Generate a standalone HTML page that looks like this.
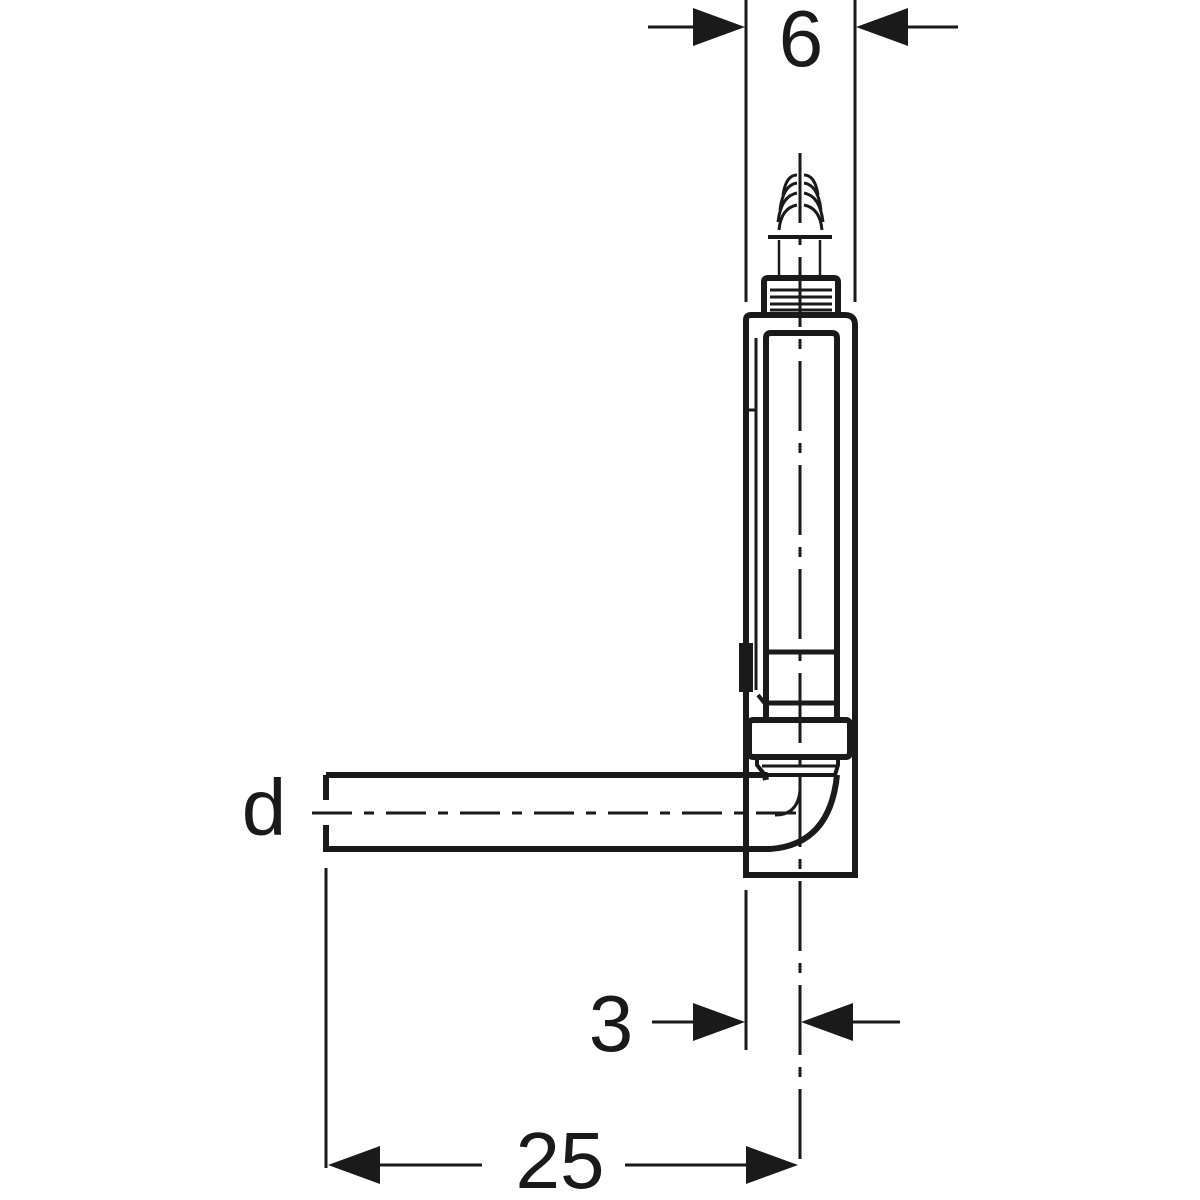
<!DOCTYPE html>
<html><head><style>html,body{margin:0;padding:0;background:#fff}svg{display:block}</style></head>
<body>
<svg width="1200" height="1200" viewBox="0 0 1200 1200" xmlns="http://www.w3.org/2000/svg">
<g stroke="#1a1a1a" fill="none" stroke-linecap="butt">
<line x1="746" y1="0" x2="746" y2="302" stroke-width="3"/>
<line x1="855" y1="0" x2="855" y2="302" stroke-width="3"/>
<line x1="648" y1="27" x2="700" y2="27" stroke-width="3"/>
<line x1="900" y1="27" x2="958" y2="27" stroke-width="3"/>
<path d="M746,850 V320 Q746,315 751,315 H845 Q855,315 855,325 V875 H746 V850" stroke-width="6"/>
<line x1="756" y1="338" x2="756" y2="690" stroke-width="3"/>
<line x1="746" y1="410" x2="756" y2="410" stroke-width="3"/>
<rect x="741" y="645" width="10" height="45" stroke-width="4"/>
<path d="M764,315 V282 Q764,278 768,278 H834 Q838,278 838,282 V315" stroke-width="6"/>
<g stroke-width="3">
<line x1="770" y1="290" x2="832" y2="290"/><line x1="770" y1="297" x2="832" y2="297"/>
<line x1="770" y1="304" x2="832" y2="304"/><line x1="770" y1="310" x2="832" y2="310"/>
</g>
<line x1="768" y1="237" x2="832" y2="237" stroke-width="4"/>
<line x1="779" y1="240" x2="779" y2="278" stroke-width="2.5"/>
<line x1="820" y1="240" x2="820" y2="278" stroke-width="2.5"/>
<g stroke-width="3">
<path d="M797,175 Q786,175 783,195 M797,183 Q783,185 780,210 M797,193 Q781,196 778,222 M797,205 Q781,208 779,230"/>
<path d="M804,175 Q815,175 818,195 M804,183 Q818,185 821,210 M804,193 Q820,196 823,222 M804,205 Q820,208 822,230"/>
</g>
<path d="M766,720 V338 Q766,333 771,333 H832 Q837,333 837,338 V720" stroke-width="6"/>
<line x1="766" y1="652" x2="837" y2="652" stroke-width="5"/>
<line x1="766" y1="703" x2="837" y2="703" stroke-width="5"/>
<path d="M758,695 L766,705" stroke-width="4"/>
<rect x="749" y="720" width="101" height="37" rx="4" stroke-width="6"/>
<path d="M757,757 V765 L765,775 H835 L838,765 V757" stroke-width="4"/>
<line x1="762" y1="766" x2="836" y2="766" stroke-width="3"/>
<path d="M326,775 H765 L766,780" stroke-width="6"/>
<path d="M326,775 V800 M326,825 V849 H770 Q830,845 837,775" stroke-width="6"/>
<path d="M800,790 Q798,815 775,815" stroke-width="3"/>
<line x1="800" y1="153" x2="800" y2="1168" stroke-width="3" stroke-dasharray="70,12,10,12"/>
<line x1="312" y1="813" x2="800" y2="813" stroke-width="3" stroke-dasharray="40,12,10,12"/>
<line x1="746" y1="890" x2="746" y2="1050" stroke-width="3"/>
<line x1="326" y1="868" x2="326" y2="1168" stroke-width="3"/>
<line x1="652" y1="1022" x2="700" y2="1022" stroke-width="3"/>
<line x1="845" y1="1022" x2="900" y2="1022" stroke-width="3"/>
<line x1="370" y1="1165" x2="482" y2="1165" stroke-width="3"/>
<line x1="625" y1="1165" x2="755" y2="1165" stroke-width="3"/>
</g>
<g fill="#1a1a1a">
<polygon points="745,27 693,8 693,46"/>
<polygon points="856,27 908,8 908,46"/>
<polygon points="745,1022 693,1003 693,1041"/>
<polygon points="801,1022 853,1003 853,1041"/>
<polygon points="328,1165 380,1146 380,1184"/>
<polygon points="798,1165 746,1146 746,1184"/>
</g>
<g font-family="Liberation Sans, sans-serif" font-size="80" fill="#1a1a1a" text-anchor="middle">
<text x="801" y="66">6</text>
<text x="264" y="835">d</text>
<text x="611" y="1051">3</text>
<text x="560" y="1188">25</text>
</g>
</svg>
</body></html>
